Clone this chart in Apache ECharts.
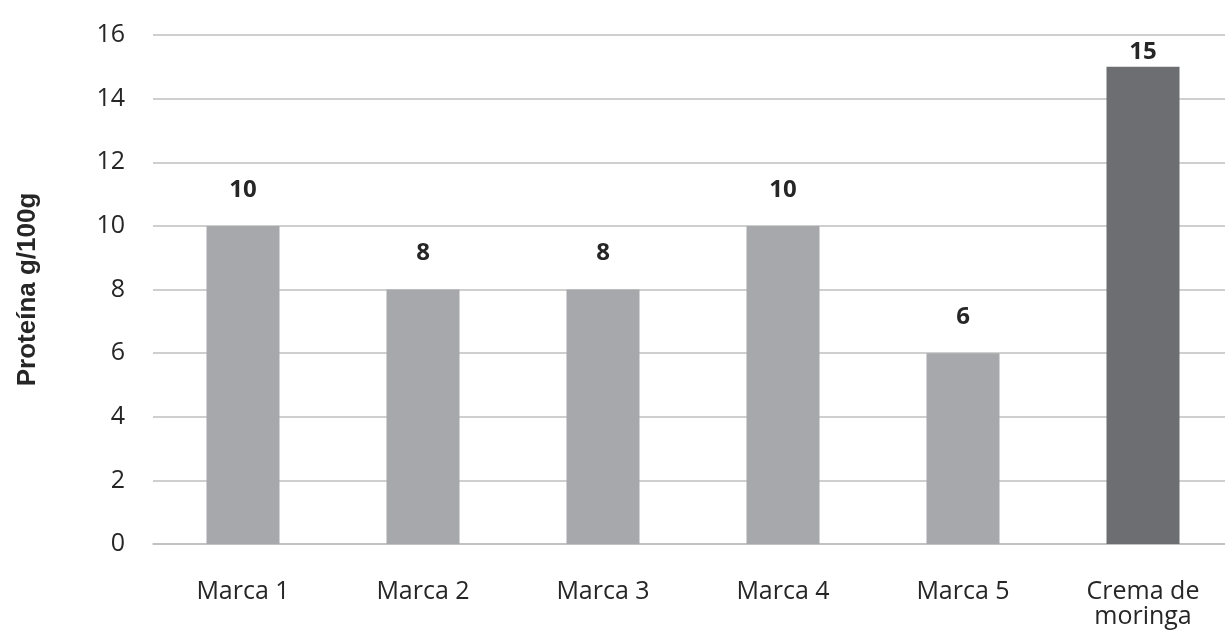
<!DOCTYPE html>
<html>
<head>
<meta charset="utf-8">
<script src="https://cdn.jsdelivr.net/npm/echarts@6/dist/echarts.min.js"></script>
<style>html,body{margin:0;padding:0;background:#fff;overflow:hidden}#c{width:1233px;height:633px}</style>
</head>
<body>
<div id="c"></div>
<script>
const categories = ['Marca 1', 'Marca 2', 'Marca 3', 'Marca 4', 'Marca 5', 'Crema de\nmoringa'];
const values = [10, 8, 8, 10, 6, 15];
const yTicks = { min: 0, max: 16, interval: 2 };

const font = '"Open Sans", "Noto Sans", sans-serif';
const chart = echarts.init(document.getElementById('c'));
const data = values.map((v, i) => {
  const last = i === values.length - 1;
  return {
    value: v,
    itemStyle: { color: last ? '#6D6E71' : '#A7A8AB' },
    label: { distance: last ? 3 : 24 }
  };
});
chart.setOption({
  animation: false,
  grid: { left: 153, top: 35, right: 0, height: 509, containLabel: false },
  xAxis: {
    type: 'category',
    data: categories,
    axisLine: { lineStyle: { color: '#BFBFBF', width: 1.5 } },
    axisTick: { show: false },
    axisLabel: { color: '#262626', fontSize: 25, fontFamily: font, margin: 35, lineHeight: 25 }
  },
  yAxis: {
    type: 'value',
    min: yTicks.min, max: yTicks.max, interval: yTicks.interval,
    name: 'Proteína g/100g',
    nameLocation: 'middle',
    nameGap: 112,
    nameTextStyle: { color: '#262626', fontSize: 26, fontWeight: 'bold', fontFamily: '"Liberation Sans", Arial, sans-serif' },
    axisLine: { show: false },
    axisTick: { show: false },
    axisLabel: { color: '#262626', fontSize: 25, fontFamily: font, margin: 28 },
    splitLine: { lineStyle: { color: '#BFBFBF', width: 1.5 } }
  },
  series: [{
    type: 'bar',
    data: data,
    barWidth: 73,
    label: { show: true, position: 'top', color: '#262626', fontSize: 24, fontWeight: 'bold', fontFamily: font }
  }]
});
</script>
</body>
</html>
